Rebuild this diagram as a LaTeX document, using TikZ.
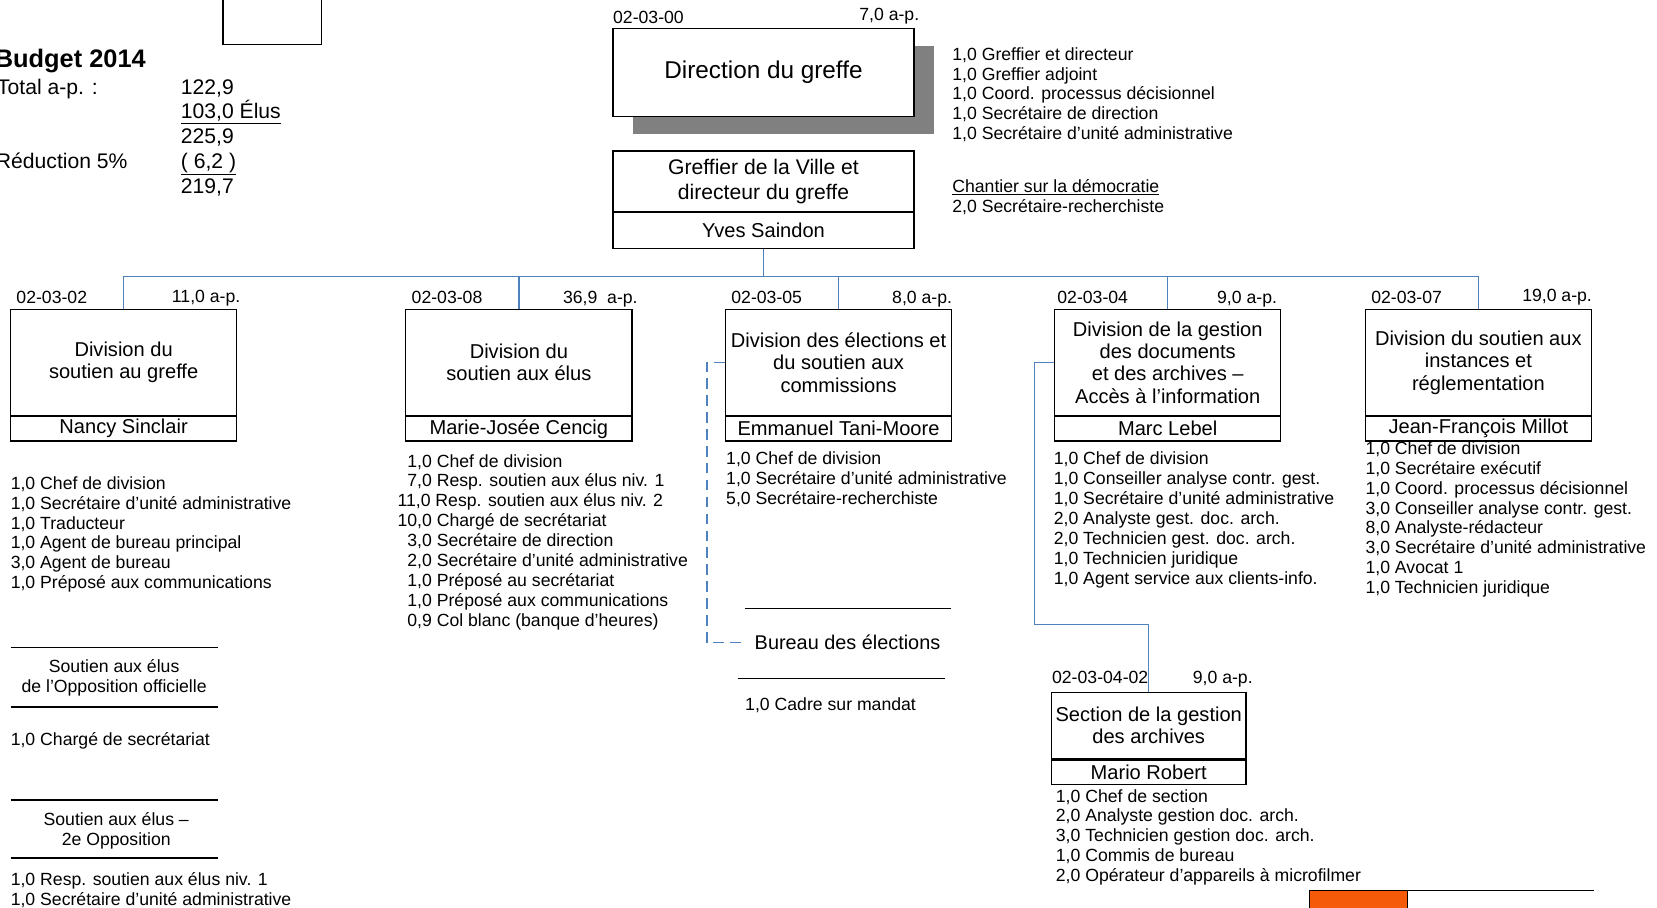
\documentclass[tikz,border=0pt]{standalone}
\usepackage{fontspec}
\setmainfont{Liberation Sans}
\usetikzlibrary{positioning,shadows}

\definecolor{linkblue}{RGB}{79,129,189}
\definecolor{tagorange}{RGB}{245,90,8}

\begin{document}
\begin{tikzpicture}[x=1pt,y=-1pt,
    unit/.style={draw,line width=1.2pt,minimum width=214pt,minimum height=100pt,align=center,inner sep=2pt,font=\fontsize{19}{21.2}\selectfont},
    chief/.style={draw,line width=1.2pt,minimum width=214pt,minimum height=23pt,inner sep=0pt,font=\fontsize{19}{21}\selectfont},
    code/.style={anchor=base west,inner sep=0pt,font=\fontsize{16.7}{18.8}\selectfont},
    fte/.style={anchor=base east,inner sep=0pt,font=\fontsize{16.7}{18.8}\selectfont},
    staff/.style={anchor=base west,align=left,inner sep=0pt,font=\fontsize{16.7}{18.8}\selectfont},
    link/.style={draw=linkblue,line width=1.3pt},
    rule/.style={draw,line width=1.2pt}]
    \useasboundingbox (0,0) rectangle (1568,859);

    % budget (base of a multi-line node = its last line)
    \draw[line width=1pt] (211,-5) rectangle (304,42);
    \node[anchor=base west,inner sep=0pt,font=\bfseries\fontsize{24}{28}\selectfont] (budget) at (-5,64) {Budget 2014};
    \node[anchor=base west,inner sep=0pt,font=\fontsize{20}{23.5}\selectfont] (total) at (-3,89) {Total a-p. :};
    \node[anchor=base west,inner sep=0pt,font=\fontsize{20}{23.5}\selectfont] (cut) at (-4,159) {Réduction 5\%};
    \node[anchor=base west,align=left,inner sep=0pt,font=\fontsize{20}{23.5}\selectfont] (sums) at (171,183)
      {122,9\\\underline{103,0 Élus}\\225,9\\\underline{( 6,2 )}\\219,7};

    % direction
    \node[draw,line width=1.2pt,fill=white,minimum width=285pt,minimum height=83pt,font=\fontsize{23}{26}\selectfont,
      drop shadow={shadow xshift=19pt,shadow yshift=-17pt,fill=black!50,opacity=1}] (direction) at (722.5,68.5) {Direction du greffe};
    \node[code] (dircode) at (580,22) {02-03-00};
    \node[fte] (dirfte) at (870,19) {7,0 a-p.};
    \node[staff] (dirstaff) at (901,132.2) {1,0 Greffier et directeur\\1,0 Greffier adjoint\\1,0 Coord. processus décisionnel\\1,0 Secrétaire de direction\\1,0 Secrétaire d’unité administrative};

    \node[draw,line width=1.2pt,minimum width=285pt,minimum height=57pt,align=center,font=\fontsize{20}{24}\selectfont] (greffier) at (722.5,171.5) {Greffier de la Ville et\\directeur du greffe};
    \node[chief,minimum width=285pt,minimum height=34pt,below=0pt of greffier] (saindon) {Yves Saindon};
    \node[staff] (chantier) at (901,200.8) {\underline{Chantier sur la démocratie}\\2,0 Secrétaire-recherchiste};

    % divisions
    \node[unit] (greffe) at (117,343) {Division du\\soutien au greffe};
    \node[chief,below=0pt of greffe] (sinclair) {Nancy Sinclair};
    \node[unit] (elus) at (491,343) {Division du\\soutien aux élus};
    \node[chief,below=0pt of elus] (cencig) {Marie-Josée Cencig};
    \node[unit] (elections) at (793.5,343) {Division des élections et\\du soutien aux\\commissions};
    \node[chief,below=0pt of elections] (tanimoore) {Emmanuel Tani-Moore};
    \node[unit] (documents) at (1105,343) {Division de la gestion\\des documents\\et des archives –\\Accès à l’information};
    \node[chief,below=0pt of documents] (lebel) {Marc Lebel};
    \node[unit] (instances) at (1399,343) {Division du soutien aux\\instances et\\réglementation};
    \node[chief,below=0pt of instances] (millot) {Jean-François Millot};
    \node[unit,minimum width=184pt,minimum height=63pt] (archives) at (1087,686.5) {Section de la gestion\\des archives};
    \node[chief,minimum width=184pt,below=0pt of archives] (robert) {Mario Robert};

    \node[code] at ([shift={(6pt,5pt)}]greffe.north west) {02-03-02};
    \node[fte] at ([shift={(3pt,6pt)}]greffe.north east) {11,0 a-p.};
    \node[code] at ([shift={(6pt,5pt)}]elus.north west) {02-03-08};
    \node[fte] at ([shift={(5pt,5pt)}]elus.north east) {36,9~ a-p.};
    \node[code] at ([shift={(6pt,5pt)}]elections.north west) {02-03-05};
    \node[fte] at ([shift={(0pt,5pt)}]elections.north east) {8,0 a-p.};
    \node[code] at ([shift={(3pt,5pt)}]documents.north west) {02-03-04};
    \node[fte] at ([shift={(-4pt,5pt)}]documents.north east) {9,0 a-p.};
    \node[code] at ([shift={(6pt,5pt)}]instances.north west) {02-03-07};
    \node[fte] at ([shift={(0pt,7pt)}]instances.north east) {19,0 a-p.};
    \node[code] at ([shift={(1pt,8pt)}]archives.north west) {02-03-04-02};
    \node[fte] at ([shift={(6pt,8pt)}]archives.north east) {9,0 a-p.};

    % staff
    \node[staff] (greffestaff) at (10,557) {1,0 Chef de division\\1,0 Secrétaire d’unité administrative\\1,0 Traducteur\\1,0 Agent de bureau principal\\3,0 Agent de bureau\\1,0 Préposé aux communications};
    \node[staff] (elusstaff) at (376,592.4) {\phantom{1}1,0 Chef de division\\\phantom{1}7,0 Resp. soutien aux élus niv. 1\\11,0 Resp. soutien aux élus niv. 2\\10,0 Chargé de secrétariat\\\phantom{1}3,0 Secrétaire de direction\\\phantom{1}2,0 Secrétaire d’unité administrative\\\phantom{1}1,0 Préposé au secrétariat\\\phantom{1}1,0 Préposé aux communications\\\phantom{1}0,9 Col blanc (banque d’heures)};
    \node[staff] (electionsstaff) at (687,477.6) {1,0 Chef de division\\1,0 Secrétaire d’unité administrative\\5,0 Secrétaire-recherchiste};
    \node[staff] (documentsstaff) at (997,552.8) {1,0 Chef de division\\1,0 Conseiller analyse contr. gest.\\1,0 Secrétaire d’unité administrative\\2,0 Analyste gest. doc. arch.\\2,0 Technicien gest. doc. arch.\\1,0 Technicien juridique\\1,0 Agent service aux clients-info.};
    \node[staff] (instancesstaff) at (1292,561.6) {1,0 Chef de division\\1,0 Secrétaire exécutif\\1,0 Coord. processus décisionnel\\3,0 Conseiller analyse contr. gest.\\8,0 Analyste-rédacteur\\3,0 Secrétaire d’unité administrative\\1,0 Avocat 1\\1,0 Technicien juridique};
    \node[staff] (archivesstaff) at (999,834.2) {1,0 Chef de section\\2,0 Analyste gestion doc. arch.\\3,0 Technicien gestion doc. arch.\\1,0 Commis de bureau\\2,0 Opérateur d’appareils à microfilmer};

    % opposition
    \draw[rule] (10,613) -- (206,613);
    \node[staff,anchor=base,align=center,font=\fontsize{16.7}{19}\selectfont] (officielle) at (108,655) {Soutien aux élus\\de l’Opposition officielle};
    \draw[rule] (10,669) -- (206,669);
    \node[staff] (officiellestaff) at (10,705) {1,0 Chargé de secrétariat};
    \draw[rule] (10,757) -- (206,757);
    \node[staff,anchor=base,align=center,font=\fontsize{16.7}{19}\selectfont] (deuxieme) at (110,800) {Soutien aux élus –\\2e Opposition};
    \draw[rule] (10,812) -- (206,812);
    \node[staff] (deuxiemestaff) at (10,856.8) {1,0 Resp. soutien aux élus niv. 1\\1,0 Secrétaire d’unité administrative};

    % bureau des elections
    \draw[rule] (705,576) -- (900,576);
    \node[anchor=base west,inner xsep=9pt,inner ysep=0pt,font=\fontsize{18.8}{21}\selectfont] (bureau) at (705,615) {Bureau des élections};
    \draw[rule] (698,642) -- (894,642);
    \node[staff] (bureaustaff) at (705,672) {1,0 Cadre sur mandat};

    % orange tag
    \draw[line width=1pt,fill=tagorange] (1239,843) rectangle (1332,870);
    \draw[rule] (1332,843) -- (1508,843);

    % links
    \draw[link] (saindon.south) -- ++(0,26) coordinate (hub);
    \foreach \d in {greffe,elus,elections,documents,instances}
      \draw[link] (hub) -| (\d.north);
    \draw[link,dash pattern=on 10pt off 6pt] (elections.west) -- ++(-17,0) |- (bureau.west);
    \coordinate (elbow) at (979,591);
    \draw[link] (documents.west) -| (elbow) -| (archives.north);
\end{tikzpicture}
\end{document}
